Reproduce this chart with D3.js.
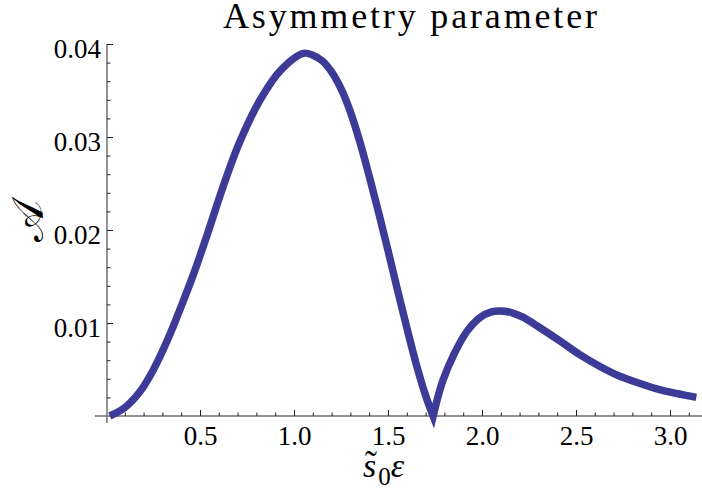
<!DOCTYPE html>
<html>
<head>
<meta charset="utf-8">
<script src="https://cdnjs.cloudflare.com/ajax/libs/d3/7.8.5/d3.min.js"></script>
<style>
  body { margin: 0; background: #fff; }
  svg { display: block; }
  svg text { font-family: "Liberation Serif", "Times New Roman", Tinos, "Noto Serif", "DejaVu Serif", serif; fill: #000; }
</style>
</head>
<body>
<svg id="chart"></svg>
<script>
var titleText = "Asymmetry parameter";
var xTicksMajor = [0.5, 1.0, 1.5, 2.0, 2.5, 3.0];
var yTicksMajor = [0.01, 0.02, 0.03, 0.04];

// curve, s0*eps vs A (cusp at 1.74)
var sValues = [0.02, 0.10, 0.18, 0.25, 0.33, 0.40, 0.47, 0.54, 0.62, 0.71, 0.82, 0.93, 1.05,
  1.10, 1.15, 1.20, 1.25, 1.30, 1.35, 1.40, 1.45, 1.50, 1.55, 1.60, 1.65, 1.70, 1.74,
  1.79, 1.85, 1.92, 1.99, 2.05, 2.10, 2.16, 2.22, 2.30, 2.42, 2.52, 2.63, 2.73, 2.84, 2.95, 3.14];
var aValues = [0.0000, 0.0009, 0.0026, 0.0049, 0.0083, 0.0118, 0.0155, 0.0196, 0.0245, 0.0294, 0.0340, 0.0372, 0.0390,
  0.0388, 0.0382, 0.0370, 0.0352, 0.0327, 0.0295, 0.0258, 0.0219, 0.0178, 0.0136, 0.0095, 0.0056, 0.0022, 0.0000,
  0.0037, 0.0066, 0.0091, 0.0106, 0.0112, 0.0113, 0.0111, 0.0106, 0.0096, 0.0080, 0.0066, 0.0053, 0.0043, 0.0035, 0.0028, 0.0020];
var cuspIndex = 26;

var width = 702;
var height = 492;
var lineColor = "#3d3b98";
var tickFont = 27;

var svg = d3.select("#chart")
    .attr("width", width)
    .attr("height", height);

var x = d3.scaleLinear()
    .domain([0, 3.2])
    .range([106, 106 + 3.2 * 188]);

var y = d3.scaleLinear()
    .domain([0, 0.04])
    .range([416, 44]);

var xMinor = d3.range(1, 32).map(function(i) { return i / 10; })
    .filter(function(v) { return Math.round(v * 10) % 5 !== 0; });
var yMinor = d3.range(1, 20).map(function(i) { return i * 0.002; })
    .filter(function(v) { return Math.round(v * 1000) % 10 !== 0; });

// axis lines
svg.append("line")
    .attr("x1", 95).attr("x2", width)
    .attr("y1", y(0)).attr("y2", y(0))
    .attr("stroke", "#222").attr("stroke-width", 1);

svg.append("line")
    .attr("x1", x(0) + 1).attr("x2", x(0) + 1)
    .attr("y1", y(0.04)).attr("y2", y(0) + 7)
    .attr("stroke", "#7a7a7a").attr("stroke-width", 1.6);

// x ticks (pointing up)
function drawXTicks(values, size) {
  var g = svg.append("g")
      .attr("transform", "translate(0," + y(0) + ")")
      .call(d3.axisTop(x).tickValues(values).tickSize(size).tickFormat(""));
  g.select(".domain").remove();
  g.selectAll("line").attr("stroke", "#222");
}
drawXTicks(xTicksMajor, 6);
drawXTicks(xMinor, 3.5);

// y ticks (pointing right)
function drawYTicks(values, size) {
  var g = svg.append("g")
      .attr("transform", "translate(" + (x(0) + 1) + ",0)")
      .call(d3.axisRight(y).tickValues(values).tickSize(size).tickFormat(""));
  g.select(".domain").remove();
  g.selectAll("line").attr("stroke", "#222");
}
drawYTicks(yTicksMajor, 6);
drawYTicks(yMinor, 3.5);

// tick labels
var xLab = svg.append("g")
    .attr("transform", "translate(0," + y(0) + ")")
    .call(d3.axisBottom(x).tickValues(xTicksMajor).tickSize(0).tickFormat(d3.format(".1f")));
xLab.attr("font-family", null);
xLab.select(".domain").remove();
xLab.selectAll("text")
    .attr("y", 29).attr("dy", 0)
    .attr("font-size", tickFont)
    .attr("fill", "#000");

var yLab = svg.append("g")
    .attr("transform", "translate(" + x(0) + ",0)")
    .call(d3.axisLeft(y).tickValues(yTicksMajor).tickSize(0).tickPadding(5).tickFormat(d3.format(".2f")));
yLab.attr("font-family", null);
yLab.select(".domain").remove();
yLab.selectAll("text")
    .attr("dy", 13)
    .attr("font-size", tickFont)
    .attr("fill", "#000");

// curve, two pieces joined at the cusp so the V stays sharp
var pts = sValues.map(function(s, i) { return [s, aValues[i]]; });
var line = d3.line()
    .x(function(d) { return x(d[0]); })
    .y(function(d) { return y(d[1]); })
    .curve(d3.curveCatmullRom.alpha(0.5));
var partA = line(pts.slice(0, cuspIndex + 1));
var partB = line(pts.slice(cuspIndex)).replace(/^M[^C]*/, "");

svg.append("path")
    .attr("d", partA + partB)
    .attr("fill", "none")
    .attr("stroke", lineColor)
    .attr("stroke-width", 7.5)
    .attr("stroke-linejoin", "miter");

// title
svg.append("text")
    .attr("x", 410)
    .attr("y", 28)
    .attr("text-anchor", "middle")
    .attr("font-size", 36)
    .attr("textLength", 374)
    .attr("lengthAdjust", "spacing")
    .text(titleText);

// x axis label  s~_0 eps
var xl = svg.append("text")
    .attr("x", 363)
    .attr("y", 477)
    .attr("font-size", 34);
xl.append("tspan").attr("font-style", "italic").text("s");
xl.append("tspan").attr("font-size", 25).attr("dx", 2).attr("dy", 8).text("0");
xl.append("tspan").attr("font-style", "italic").attr("dy", -8).text("ε");

svg.append("text")
    .attr("x", 371)
    .attr("y", 476)
    .attr("text-anchor", "middle")
    .attr("font-size", 36)
    .text("˜");

// y axis label
svg.append("text")
    .attr("transform", "translate(43,221) rotate(-90)")
    .attr("text-anchor", "middle")
    .attr("font-size", 44)
    .text("𝒜");
</script>
</body>
</html>
